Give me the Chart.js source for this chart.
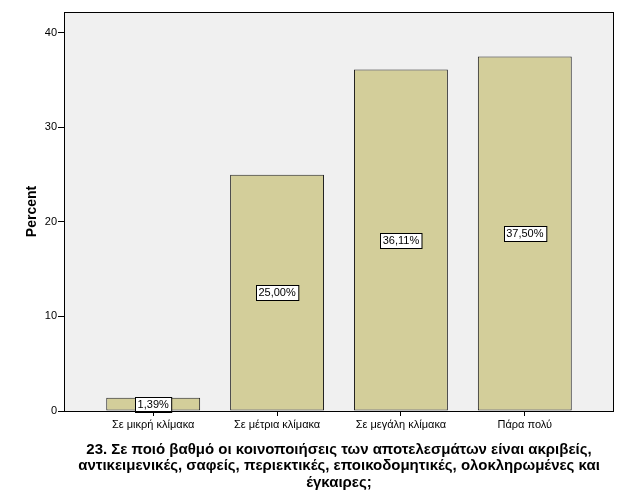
<!DOCTYPE html>
<html>
<head>
<meta charset="utf-8">
<script src="https://cdn.jsdelivr.net/npm/chart.js@4"></script>
<style>
  html, body { margin: 0; padding: 0; background: #fff; }
  #wrap { width: 629px; height: 504px; }
</style>
</head>
<body>
<div id="wrap"><canvas id="myChart" width="629" height="504"></canvas></div>
<script>
// categories and values
const categories = ['Σε μικρή κλίμακα', 'Σε μέτρια κλίμακα', 'Σε μεγάλη κλίμακα', 'Πάρα πολύ'];
const percents = [1.39, 25.00, 36.11, 37.50];
const yTicks = [0, 10, 20, 30, 40];
const xTitle = [
    '23. Σε ποιό βαθμό οι κοινοποιήσεις των αποτελεσμάτων είναι ακριβείς,',
    'αντικειμενικές, σαφείς, περιεκτικές, εποικοδομητικές, ολοκληρωμένες και',
    'έγκαιρες;'
];

// plot background + frame, like SPSS output
const frame = {
    id: 'frame',
    beforeDraw(c) {
        const a = c.chartArea, ctx = c.ctx;
        ctx.save();
        ctx.fillStyle = '#f0f0f0';
        ctx.fillRect(a.left, a.top, a.right - a.left, a.bottom - a.top);
        ctx.restore();
    },
    afterDraw(c) {
        const a = c.chartArea, ctx = c.ctx;
        ctx.save();
        ctx.strokeStyle = '#000';
        ctx.lineWidth = 1;
        ctx.strokeRect(a.left + 0.5, a.top + 0.5, a.right - a.left - 1, a.bottom - a.top);
        ctx.restore();
    }
};

// white boxed labels in the middle of each bar
const boxLabels = {
    id: 'boxLabels',
    afterDatasetsDraw(c) {
        const ctx = c.ctx;
        const meta = c.getDatasetMeta(0);
        ctx.save();
        ctx.font = '11px "Liberation Sans", Arial, sans-serif';
        ctx.textAlign = 'center';
        ctx.textBaseline = 'middle';
        meta.data.forEach((bar, i) => {
            const txt = percents[i].toFixed(2).replace('.', ',') + '%';
            const w = ctx.measureText(txt).width + 5;
            const h = 15;
            const cy = (bar.y + bar.base) / 2;
            const x0 = Math.round(bar.x - w / 2) + 0.5;
            const y0 = Math.round(cy - h / 2) + 0.5;
            ctx.fillStyle = '#fff';
            ctx.fillRect(x0, y0, w, h);
            ctx.strokeStyle = '#000';
            ctx.lineWidth = 1;
            ctx.strokeRect(x0, y0, w, h);
            ctx.fillStyle = '#000';
            ctx.fillText(txt, bar.x, cy + 0.5);
        });
        ctx.restore();
    }
};

const ctx = document.getElementById('myChart').getContext('2d');
const chart = new Chart(ctx, {
    type: 'bar',
    data: {
        datasets: [{
            label: 'Percent',
            data: percents.map((v, i) => ({ x: i, y: v })),
            backgroundColor: '#d3ce9a',
            borderColor: '#222',
            borderWidth: 1,
            borderSkipped: false,
            categoryPercentage: 1,
            barPercentage: 0.758
        }]
    },
    options: {
        responsive: false,
        animation: false,
        devicePixelRatio: 1,
        layout: { padding: { top: 12, right: 15, left: 0, bottom: 9 } },
        plugins: {
            legend: { display: false },
            tooltip: { enabled: false }
        },
        scales: {
            x: {
                type: 'linear',
                offset: false,
                min: -0.72,
                max: categories.length - 1 + 0.72,
                afterBuildTicks: s => { s.ticks = categories.map((c, i) => ({ value: i })); },
                afterFit: s => { s.height = 504 - 411 - 9; },
                ticks: {
                    callback: v => categories[v],
                    color: '#000',
                    font: { family: '"Liberation Sans", Arial, sans-serif', size: 11 },
                    maxRotation: 0,
                    autoSkip: false,
                    padding: 2
                },
                grid: { drawOnChartArea: false, offset: false, tickLength: 5, color: '#000' },
                border: { display: false },
                title: {
                    display: true,
                    text: xTitle,
                    color: '#000',
                    font: { family: '"Liberation Sans", Arial, sans-serif', size: 15, weight: 'bold', lineHeight: 1.1 },
                    padding: { top: 4 }
                }
            },
            y: {
                min: 0,
                max: 42.2,
                afterBuildTicks: s => { s.ticks = yTicks.map(v => ({ value: v })); },
                afterFit: s => { s.width = 64; },
                ticks: {
                    color: '#000',
                    font: { family: '"Liberation Sans", Arial, sans-serif', size: 11 },
                    padding: 1
                },
                grid: { drawOnChartArea: false, tickLength: 6, color: '#000' },
                border: { display: false },
                title: {
                    display: true,
                    text: 'Percent',
                    color: '#000',
                    font: { family: '"Liberation Sans", Arial, sans-serif', size: 14, weight: 'bold' },
                    padding: { top: 24, bottom: 4 }
                }
            }
        }
    },
    plugins: [frame, boxLabels]
});
</script>
</body>
</html>
